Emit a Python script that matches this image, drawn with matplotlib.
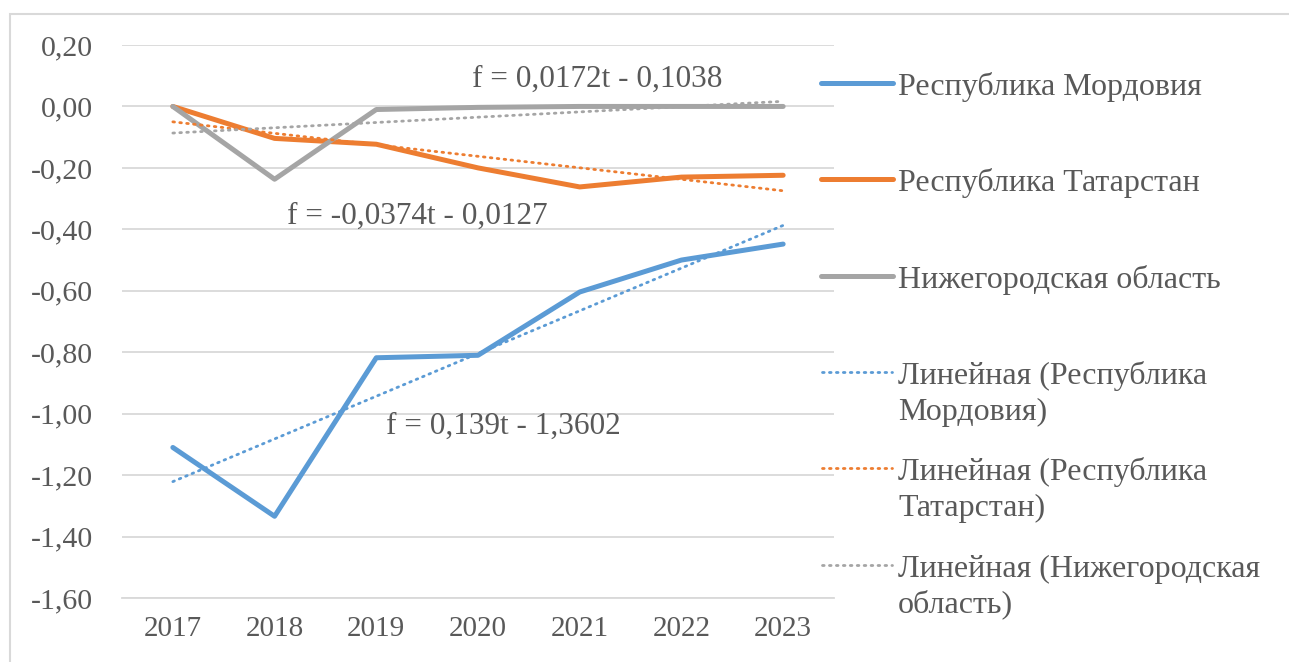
import matplotlib
matplotlib.use("Agg")
import matplotlib.pyplot as plt
from matplotlib.lines import Line2D
from matplotlib.patches import Rectangle
import numpy as np

# ---- data ----
years = [2017, 2018, 2019, 2020, 2021, 2022, 2023]
mordovia = [-1.11, -1.334, -0.818, -0.810, -0.604, -0.500, -0.448]
tatarstan = [0.00, -0.104, -0.123, -0.200, -0.262, -0.230, -0.224]
nizhny = [0.00, -0.237, -0.010, -0.003, 0.00, 0.00, 0.00]

# trend coefficients as shown on the chart (f = a*t + b, t = 1..7)
trend_mordovia = (0.139, -1.3602)
trend_tatarstan = (-0.0374, -0.0127)
trend_nizhny = (0.0172, -0.1038)

yticks = [0.20, 0.00, -0.20, -0.40, -0.60, -0.80, -1.00, -1.20, -1.40, -1.60]
ytick_labels = ["0,20", "0,00", "-0,20", "-0,40", "-0,60", "-0,80", "-1,00", "-1,20", "-1,40", "-1,60"]

series_names = ["Республика Мордовия", "Республика Татарстан", "Нижегородская область"]
trend_names = ["Линейная (Республика\nМордовия)", "Линейная (Республика\nТатарстан)",
               "Линейная (Нижегородская\nобласть)"]
eq_texts = ["f = 0,139t - 1,3602", "f = -0,0374t - 0,0127", "f = 0,0172t - 0,1038"]

# ---- style ----
BLUE, ORANGE, GRAY = "#5B9BD5", "#ED7D31", "#A5A5A5"
TXT = "#595959"
GRID = "#D9D9D9"
FONT = "Liberation Serif"
plt.rcParams["font.family"] = "serif"
plt.rcParams["font.serif"] = [FONT, "DejaVu Serif"]

W, H = 1289, 662
fig = plt.figure(figsize=(W / 100, H / 100), dpi=100)
ax = fig.add_axes([122 / W, 1 - 598 / H, (834 - 122) / W, (598 - 45) / H])

colors = [BLUE, ORANGE, GRAY]
data = [mordovia, tatarstan, nizhny]
trends = [trend_mordovia, trend_tatarstan, trend_nizhny]
DOT = (0, (0.6, 1.9))

x = np.array(years)
t = x - (years[0] - 1)
for vals, c in zip(data, colors):
    ax.plot(x, vals, color=c, lw=3.6, solid_capstyle="round", solid_joinstyle="round", zorder=3)
for (a, b), c in zip(trends, colors):
    ax.plot(x, a * t + b, color=c, lw=2.0, linestyle=DOT, dash_capstyle="round", zorder=4)

ax.set_xlim(years[0] - 0.5, years[-1] + 0.5)
ax.set_ylim(yticks[-1], yticks[0])
ax.set_yticks(yticks)
ax.set_yticklabels(ytick_labels, family=FONT)
ax.set_xticks(years)
ax.set_xticklabels([str(y) for y in years], family=FONT)
ax.tick_params(axis="y", length=0, pad=21, labelsize=21.5, labelcolor=TXT)
ax.tick_params(axis="x", length=0, pad=13, labelsize=21, labelcolor=TXT)
ax.grid(axis="y", color=GRID, lw=1.3)
ax.set_axisbelow(True)
for s in ["top", "right", "left"]:
    ax.spines[s].set_visible(False)
ax.spines["bottom"].set_color(GRID)
ax.spines["bottom"].set_linewidth(1.3)

# trend equations
eq_pos = [(2020.25, -1.042), (2019.40, -0.357), (2021.17, 0.088)]
for txt, (ex, ey) in zip(eq_texts, eq_pos):
    ax.text(ex, ey, txt, ha="center", va="center", fontsize=22.5, color=TXT, family=FONT, zorder=5)

# legend (manual, right side)
leg_y0 = 95      # baseline of first line of first entry, px from top
leg_step = 96.3
line_gap = 36.0  # px between lines of a wrapped label
labels = series_names + trend_names
for i, label in enumerate(labels):
    yb = leg_y0 + i * leg_step
    yl = yb - 12
    if i < 3:
        ln = Line2D([821 / W, 893 / W], [1 - yl / H, 1 - yl / H], transform=fig.transFigure,
                    color=colors[i], lw=3.6, solid_capstyle="round")
    else:
        ln = Line2D([822 / W, 892 / W], [1 - yl / H, 1 - yl / H], transform=fig.transFigure,
                    color=colors[i - 3], lw=2.0, linestyle=DOT, dash_capstyle="round")
    fig.add_artist(ln)
    for j, part in enumerate(label.split("\n")):
        fig.text(898 / W, 1 - (yb + j * line_gap) / H, part, ha="left", va="baseline",
                 fontsize=23, color=TXT, family=FONT)

# outer chart frame
fig.add_artist(Rectangle((10 / W, -0.1), 1.2, 1 - 14 / H + 0.1, transform=fig.transFigure,
                         fill=False, edgecolor=GRID, lw=1.5))

fig.savefig("out.png", dpi=100)
